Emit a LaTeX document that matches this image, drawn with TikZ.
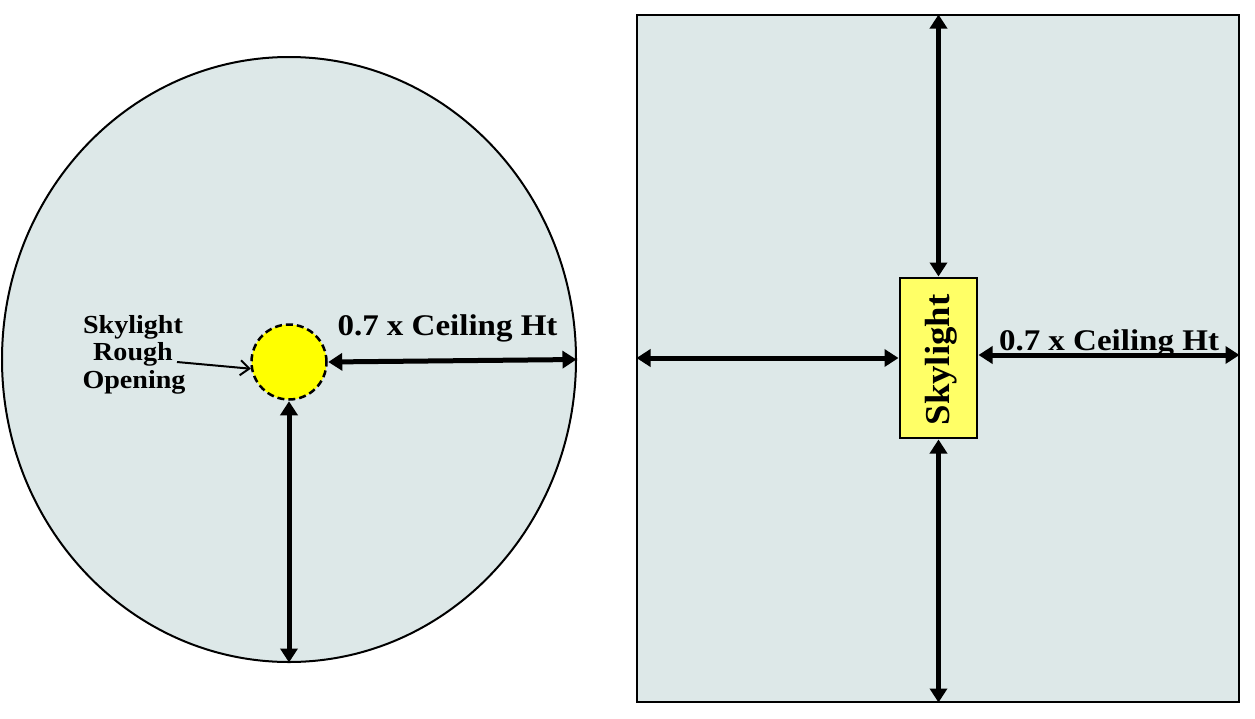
\documentclass[tikz,border=0pt]{standalone}
\usepackage{fontspec}
\setmainfont{Liberation Serif}
\newfontfamily\labelfont[FakeStretch=1.1]{Liberation Serif}
\newfontfamily\smallfont[FakeStretch=1.08]{Liberation Serif}
\newfontfamily\skyfont[FakeStretch=1.05]{Liberation Serif}
\usetikzlibrary{shapes.geometric,arrows.meta,calc}
\definecolor{roomfill}{RGB}{221,232,232}
\definecolor{holefill}{RGB}{255,255,0}
\definecolor{skyfill}{RGB}{255,255,102}
\tikzset{
  roomshape/.style={draw=black,line width=2pt,fill=roomfill,inner sep=0pt},
  dimarrow/.style={line width=5pt,{Triangle[length=14pt,width=17pt]}-{Triangle[length=14pt,width=17pt]},shorten <=0.5pt,shorten >=0.5pt},
  ptrarrow/.style={line width=2pt,-{Straight Barb[length=9pt,width=15pt]}},
  dimlabel/.style={font=\labelfont\fontsize{30}{32}\selectfont\bfseries,inner sep=0pt,anchor=base},
  smalllabel/.style={font=\smallfont\fontsize{26}{27}\selectfont\bfseries,align=center,inner sep=0pt,anchor=base},
  skylabel/.style={font=\skyfont\fontsize{35}{37}\selectfont\bfseries,inner sep=0pt,anchor=base,rotate=90}
}
\begin{document}
\begin{tikzpicture}[x=1pt,y=-1pt]
\useasboundingbox (0,0) rectangle (1255,718);
% left: round room
\node[roomshape,ellipse,minimum width=574pt,minimum height=605pt] (ell) at (289,359.5) {};
\node[circle,draw=black,line width=2.5pt,dash pattern=on 7pt off 4pt,fill=holefill,minimum size=75pt,inner sep=0pt] (hole) at (289,362) {};
\draw[dimarrow] (hole.east) -- (ell.east);
\draw[dimarrow] (hole.south) -- (ell.south);
\node[dimlabel] (lblA) at (447.5,335) {0.7 x Ceiling Ht};
\node[smalllabel] (lblB1) at (133,333) {Skylight};
\node[smalllabel] (lblB2) at (133,360) {Rough};
\node[smalllabel] (lblB3) at (134,388) {Opening};
\draw[ptrarrow] (177,362) -- (hole.190);
% right: square room
\node[roomshape,rectangle,minimum width=602pt,minimum height=687pt] (room) at (938,358.5) {};
\node[draw=black,line width=2pt,fill=skyfill,minimum width=77pt,minimum height=160pt,inner sep=0pt] (sky) at (938.5,358) {};
\node[skylabel] (skytxt) at (949,360) {Skylight};
\draw[dimarrow] (sky.north) -- (sky.north |- room.north);
\draw[dimarrow] (sky.south) -- (sky.south |- room.south);
\draw[dimarrow] (sky.west) -- (sky.west -| room.west);
\draw[dimarrow] ($(sky.east)+(0,-3)$) -- ($(sky.east -| room.east)+(0,-3)$);
\node[dimlabel] (lblC) at (1109,350) {0.7 x Ceiling Ht};
\end{tikzpicture}
\end{document}
